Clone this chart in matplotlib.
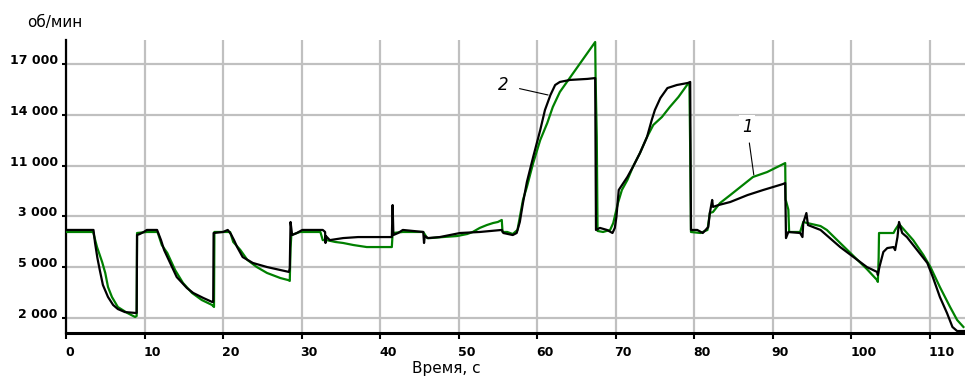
import matplotlib
matplotlib.use("Agg")
import matplotlib.pyplot as plt
import matplotlib.transforms as mtransforms

# Curve 2 (black): time, s / rpm
t_black = [0, 3.5, 3.7, 4.0, 4.3, 4.7, 5.35, 6.0, 6.6, 7.5, 8.8, 9.0, 9.05, 9.4, 9.9, 10.3,
           11.6, 11.7, 12.1, 12.5, 13.2, 14.1, 15.4, 16.2, 17.5, 18.6, 18.75, 18.8, 20.0, 20.6,
           21.0, 21.4, 21.8, 22.5, 23.8, 25.6, 27.3, 28.4, 28.5, 28.6, 28.8, 29.4, 30.1, 32.7,
           33.0, 33.05, 33.1, 33.6, 35.3, 37.2, 41.5, 41.6, 41.7, 42.3, 42.9, 45.5, 45.6, 45.7,
           46.1, 47.6, 50.2, 52.7, 55.5, 55.7, 56.9, 57.4, 57.8, 58.2, 58.7, 59.5, 60.4, 61.0,
           61.7, 62.3, 62.9, 64.2, 66.4, 67.4, 67.5, 68.0, 68.9, 69.6, 69.9, 70.1, 70.4, 71.5,
           72.2, 73.1, 74.0, 74.6, 75.0, 75.7, 76.6, 77.8, 79.2, 79.5, 79.6, 80.4, 81.1, 81.8,
           82.0, 82.3, 82.4, 83.1, 84.6, 86.8, 88.8, 91.3, 91.6, 91.7, 92.0, 93.5, 93.8, 93.9,
           94.3, 94.5, 96.1, 98.6, 100.8, 102.0, 103.3, 103.4, 103.6, 104.1, 104.6, 105.4, 105.6,
           105.9, 106.1, 106.5, 107.1, 108.4, 109.7, 110.4, 111.3, 112.2, 112.9, 113.5, 114.5]
rpm_black = [7200, 7200, 6430, 5540, 4835, 3950, 3240, 2770, 2530, 2350, 2300, 2300, 6900, 6960, 7080, 7200,
             7200, 7080, 6600, 6010, 5310, 4420, 3770, 3480, 3180, 2950, 2950, 7020, 7080, 7200,
             6960, 6600, 6190, 5600, 5250, 5010, 4830, 4720, 4950, 7670, 6900, 7020, 7200, 7200,
             7080, 6430, 6840, 6600, 6720, 6780, 6780, 8670, 6900, 7020, 7200, 7080, 6430, 6840,
             6720, 6780, 7020, 7080, 7200, 7020, 6900, 7020, 7670, 8790, 10030, 11510, 13100, 14280,
             15170, 15760, 15940, 16060, 16120, 16170, 7200, 7320, 7200, 7020, 7320, 7960, 9560, 10330,
             10920, 11740, 12690, 13690, 14280, 14990, 15580, 15760, 15880, 15940, 7200, 7200, 7020, 7370,
             8200, 8970, 8560, 8670, 8850, 9260, 9560, 9910, 9970, 6720, 7080, 7020, 6780, 7610,
             8200, 7490, 7200, 6190, 5430, 5010, 4720, 4540, 5010, 5900, 6130, 6190, 6010,
             6780, 7670, 7020, 6780, 6010, 5250, 4420, 3240, 2300, 1470, 1230, 1230]

# Curve 1 (green)
t_green = [0, 3.45, 3.95, 4.6, 5.0, 5.35, 5.85, 6.6, 7.8, 8.8, 9.0, 9.05, 10.3, 11.6, 11.7, 12.2,
           12.9, 13.9, 14.9, 16.05, 17.3, 18.6, 18.85, 18.9, 20.9, 21.3, 22.2, 23.1, 24.3, 25.6,
           27.3, 28.3, 28.5, 28.6, 28.7, 29.8, 32.4, 32.7, 33.2, 34.3, 35.3, 36.6, 38.3, 41.5,
           41.6, 42.9, 45.5, 46.0, 46.4, 48.0, 49.8, 51.1, 51.8, 52.7, 53.6, 54.4, 55.0, 55.5,
           55.6, 56.2, 56.9, 57.5, 57.8, 58.2, 58.7, 59.5, 60.4, 61.3, 62.0, 62.9, 63.8, 64.6,
           65.5, 66.4, 67.4, 67.45, 67.6, 67.7, 68.4, 69.3, 69.7, 70.3, 70.8, 71.5, 72.2, 73.1,
           74.0, 74.8, 75.9, 76.9, 78.0, 79.1, 79.4, 79.5, 79.6, 80.8, 81.7, 82.0, 82.4, 83.3,
           84.6, 85.9, 87.5, 89.3, 90.6, 91.6, 91.65, 92.0, 92.1, 93.5, 93.9, 94.4, 96.1, 96.9,
           98.6, 100.8, 102.0, 103.3, 103.4, 103.5, 103.55, 105.4, 105.6, 106.1, 107.1, 107.9,
           109.2, 110.1, 111.3, 112.6, 113.5, 114.3]
rpm_green = [7080, 7080, 6190, 5310, 4660, 3830, 3240, 2650, 2300, 2060, 2120, 7020, 7080, 7080, 7020, 6310,
             5840, 4830, 4070, 3480, 3060, 2770, 2650, 7080, 7080, 6490, 6020, 5430, 5010, 4660,
             4360, 4240, 4190, 6130, 6900, 7080, 7080, 6600, 6600, 6490, 6430, 6310, 6190, 6190,
             7020, 7080, 7080, 6720, 6720, 6780, 6840, 6960, 7080, 7320, 7490, 7610, 7670, 7790,
             7080, 7080, 6960, 7200, 7960, 8970, 9740, 11150, 12510, 13520, 14460, 15350, 15940, 16470,
             17060, 17650, 18300, 16230, 12690, 7140, 7080, 7200, 7610, 8790, 9560, 10150, 10920, 11740,
             12690, 13400, 13870, 14460, 15050, 15760, 15880, 11920, 7080, 7020, 7200, 8200, 8260, 8790,
             9260, 9740, 10330, 10620, 10920, 11150, 9000, 8400, 7080, 7080, 7670, 7610, 7430, 7200,
             6430, 5430, 4890, 4240, 4130, 5540, 7020, 7020, 7200, 7550, 7020, 6600,
             5720, 5010, 3830, 2650, 1880, 1470]

x_ticks = [0, 10, 20, 30, 40, 50, 60, 70, 80, 90, 100, 110]
y_ticks = [2000, 5000, 8000, 11000, 14000, 17000]
y_tick_labels = ["2 000", "5 000", "3 000", "11 000", "14 000", "17 000"]

fig = plt.figure(figsize=(9.65, 3.8), dpi=100)
ax = fig.add_axes([66 / 965, 47 / 380, 1 - 66 / 965, 293 / 380])

ax.plot(t_green, rpm_green, color="#008000", linewidth=1.6, zorder=3)
ax.plot(t_black, rpm_black, color="black", linewidth=1.6, zorder=4)

ax.set_xlim(0, 114.5)
ax.set_ylim(1114, 18418)

ax.set_xticks(x_ticks)
ax.set_xticklabels([str(x) for x in x_ticks], fontweight="bold", fontsize=9, ha="left")
ax.set_yticks(y_ticks)
ax.set_yticklabels(y_tick_labels, fontweight="bold", fontsize=9)

ax.grid(True, color="#c0c0c0", linewidth=1.6)
ax.set_axisbelow(True)

for side in ["top", "right"]:
    ax.spines[side].set_visible(False)
ax.spines["left"].set_linewidth(1.6)
ax.spines["bottom"].set_linewidth(2.2)

ax.tick_params(axis="y", length=3, width=1.5, pad=3)
ax.tick_params(axis="x", length=4, width=1.5, pad=5)

# y tick labels sit just above their grid lines
up = mtransforms.ScaledTranslation(0, 5 / 100, fig.dpi_scale_trans)
for lab in ax.get_yticklabels():
    lab.set_transform(lab.get_transform() + up)
left = mtransforms.ScaledTranslation(-1 / 100, 0, fig.dpi_scale_trans)
for lab in ax.get_xticklabels():
    lab.set_transform(lab.get_transform() + left)

fig.text(55 / 965, 1 - 22 / 380, "об/мин", fontsize=11, ha="center", va="center")
fig.text(446 / 965, 1 - 369 / 380, "Время, с", fontsize=11, ha="center", va="center")

ax.annotate("2", xy=(61.4, 15170), xytext=(55.7, 15760), fontsize=12, style="italic",
            ha="center", va="center",
            arrowprops=dict(arrowstyle="-", color="black", linewidth=0.8,
                            shrinkA=6, shrinkB=0))
ax.annotate("1", xy=(87.6, 10450), xytext=(86.75, 13280), fontsize=12, style="italic",
            ha="center", va="center",
            bbox=dict(facecolor="white", edgecolor="none", pad=2),
            arrowprops=dict(arrowstyle="-", color="black", linewidth=0.8,
                            shrinkA=3, shrinkB=0))

fig.savefig("out.png", dpi=100)
